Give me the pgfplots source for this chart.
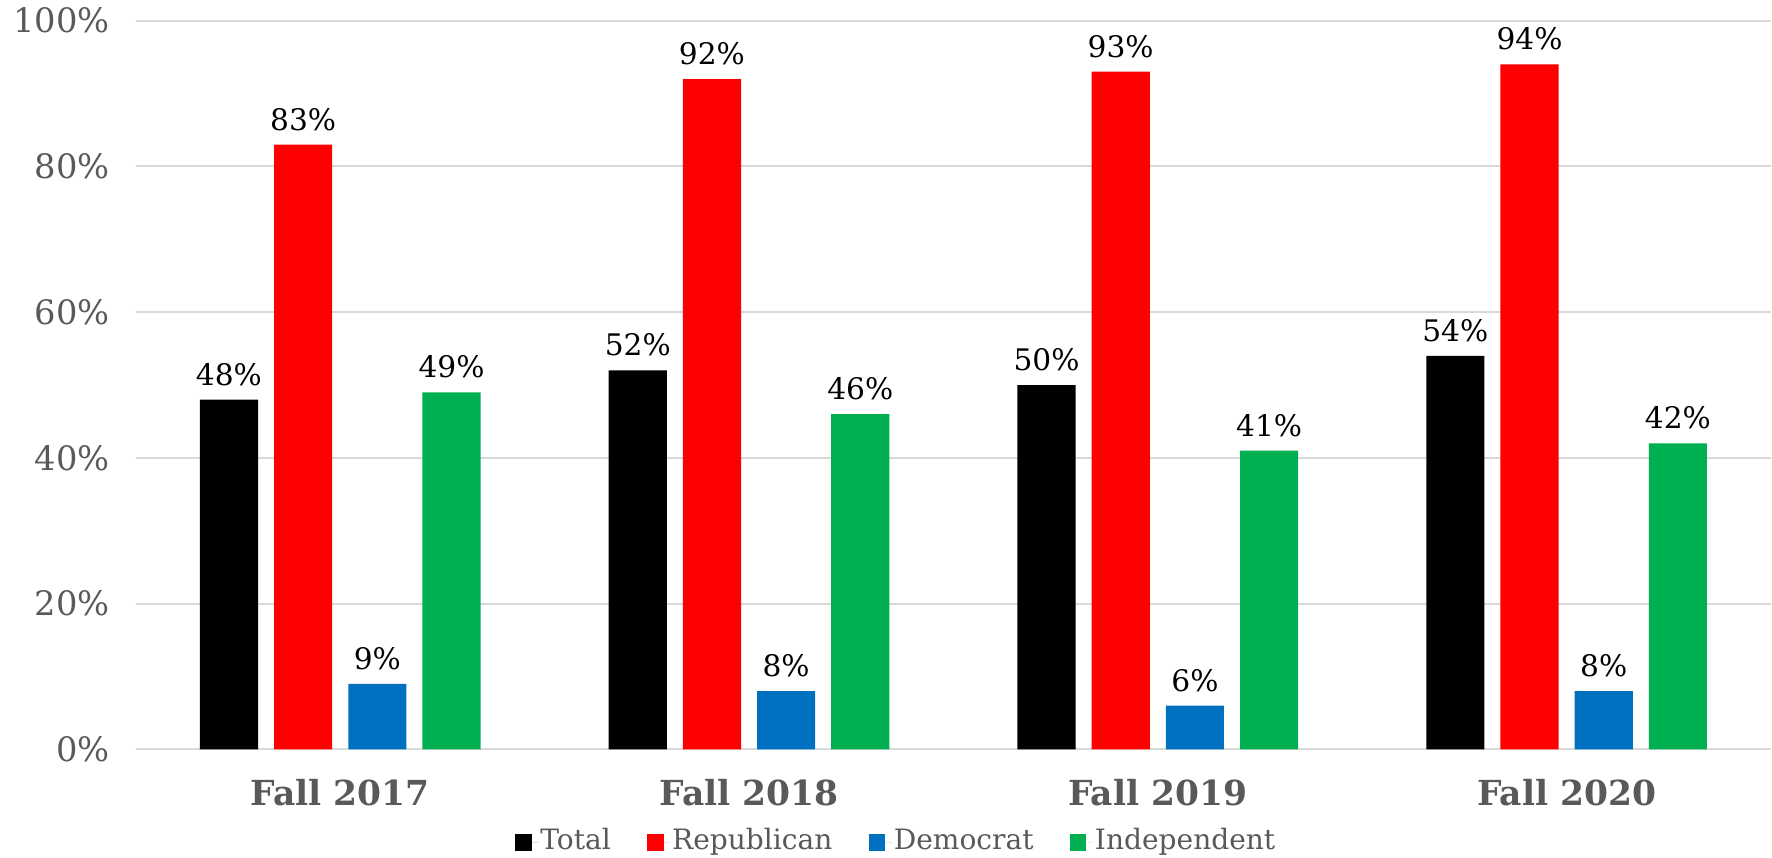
\documentclass[border=0pt]{standalone}
\usepackage{fontspec}
\setmainfont{DejaVu Serif}
\usepackage{pgfplots}
\pgfplotsset{compat=1.18}
\definecolor{repred}{HTML}{FF0000}
\definecolor{demblue}{HTML}{0070C0}
\definecolor{indgreen}{HTML}{00B050}
\definecolor{gridgray}{HTML}{D9D9D9}
\definecolor{labgray}{HTML}{595959}

\begin{document}
\begin{tikzpicture}
\begin{axis}[
    scale only axis,
    width=407.75pt, height=181.7pt,
    ybar=4pt,
    bar width=14.5pt,
    xmin=-0.5, xmax=3.5,
    ymin=0, ymax=100,
    xtick={0,1,2,3},
    xticklabels={Fall 2017, Fall 2018, Fall 2019, Fall 2020},
    ytick={0,20,40,60,80,100},
    yticklabel={\pgfmathprintnumber{\tick}\%},
    /pgf/number format/assume math mode=true,
    ymajorgrids=true,
    grid style={gridgray, line width=0.5pt},
    axis line style={draw=none},
    major tick length=0pt,
    yticklabel style={font=\fontsize{8.4}{10}\selectfont, text=labgray, xshift=-3pt, inner ysep=2pt},
    xticklabel style={font=\fontsize{8.6}{10}\selectfont\bfseries, text=labgray, yshift=-4pt},
    nodes near coords={\pgfmathprintnumber{\pgfplotspointmeta}\%},
    every node near coord/.append style={font=\fontsize{7.4}{9}\selectfont, text=black},
    legend image code/.code={\fill[#1] (0pt,-2.1pt) rectangle (4.2pt,2.1pt); \path (0pt,0pt) -- (5.8pt,0pt);},
    legend style={at={(0.465,-0.106)}, anchor=north, draw=none, fill=none,
        font=\fontsize{7}{9}\selectfont, text=labgray,
        nodes={inner sep=0.5pt},
        /tikz/every even column/.append style={column sep=8.5pt},
        inner sep=0pt, outer sep=0pt},
    legend cell align=left,
    legend columns=-1,
]
\addplot[draw=none, fill=black] coordinates {(0,48) (1,52) (2,50) (3,54)};
\addplot[draw=none, fill=repred] coordinates {(0,83) (1,92) (2,93) (3,94)};
\addplot[draw=none, fill=demblue] coordinates {(0,9) (1,8) (2,6) (3,8)};
\addplot[draw=none, fill=indgreen] coordinates {(0,49) (1,46) (2,41) (3,42)};
\legend{Total, Republican, Democrat, Independent}
\end{axis}
\end{tikzpicture}
\end{document}
